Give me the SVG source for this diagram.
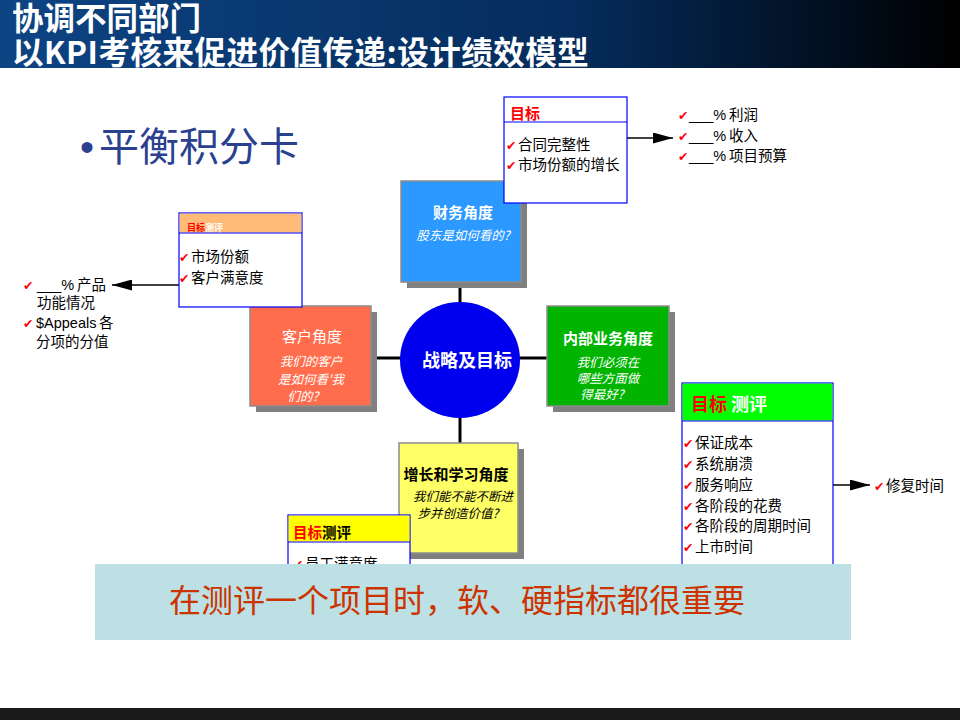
<svg xmlns="http://www.w3.org/2000/svg" width="960" height="720" viewBox="0 0 960 720">
<defs>
<linearGradient id="tb" x1="0" x2="1" y1="0" y2="0">
<stop offset="0" stop-color="#0d4484"/>
<stop offset="0.6" stop-color="#052c5c"/>
<stop offset="1" stop-color="#000000"/>
</linearGradient>
<marker id="ah" viewBox="0 0 20 11" refX="20" refY="5.5" markerWidth="20" markerHeight="11" markerUnits="userSpaceOnUse" orient="auto"><path d="M0,0 L20,5.5 L0,11 z" fill="#000"/></marker>
</defs>
<style>
.cjk{font-family:"Noto Sans CJK SC","Liberation Sans",sans-serif}
.lat{font-family:"Liberation Sans","Noto Sans CJK SC",sans-serif}
.ck{fill:#ff0000;font-family:"DejaVu Sans",sans-serif;font-size:12.5px;font-weight:bold}
.item{font-family:"Noto Sans CJK SC",sans-serif;font-size:14.5px;fill:#000}
.box{stroke:#8c8c8c;stroke-width:1.5}
.shadow{fill:#808080}
.tgt{fill:#fff;stroke:#0000ff;stroke-width:1.2}
.hd{stroke:#0000ff;stroke-width:1.2}
.conn{stroke:#000;stroke-width:3;fill:none}
.arr{stroke:#000;stroke-width:1.5;fill:none;marker-end:url(#ah)}
.ttl{font-family:"Noto Sans CJK SC",sans-serif;font-size:15px;fill:#fff;text-anchor:middle}
.sub{font-family:"Noto Sans CJK SC",sans-serif;font-size:12.5px;font-style:italic;fill:#fff;text-anchor:middle}
</style>
<rect x="0" y="0" width="960" height="68" fill="url(#tb)"/>
<text class="cjk" x="12" y="30" font-size="31.5" font-weight="bold" fill="#fff">协调不同部门</text>
<text class="cjk" x="12" y="64" font-size="31.5" font-weight="bold" fill="#fff" letter-spacing="0.5">以KPI考核来促进价值传递:设计绩效模型</text>
<rect x="0" y="708" width="960" height="12" fill="#1a1a1a"/>
<text x="80" y="161" font-size="40" fill="#2a4190"><tspan font-family="Liberation Sans, sans-serif">•</tspan><tspan dx="5" font-family="Noto Sans CJK SC, sans-serif">平衡积分卡</tspan></text>

<g id="connectors">
<line class="conn" x1="460" y1="282" x2="460" y2="303"/>
<line class="conn" x1="372" y1="358" x2="401" y2="358"/>
<line class="conn" x1="519" y1="358" x2="547" y2="358"/>
<line class="conn" x1="460" y1="416" x2="460" y2="443"/>
<line class="arr" x1="624" y1="138" x2="673" y2="138"/>
<line class="arr" x1="179" y1="285" x2="112" y2="285"/>
<line class="arr" x1="817" y1="485" x2="870" y2="485"/>
</g>

<g id="center">
<ellipse cx="460" cy="360" rx="60" ry="58" fill="#0000ee"/>
<text class="cjk" x="467" y="367" font-size="18" font-weight="bold" fill="#fff" text-anchor="middle">战略及目标</text>
</g>

<g id="finance">
<rect class="shadow" x="407" y="187" width="120" height="101"/>
<rect class="box" x="401" y="181" width="120" height="101" fill="#2b99ff"/>
<text class="ttl" x="463" y="218" font-weight="bold">财务角度</text>
<text class="sub" x="463" y="240">股东是如何看的?</text>
</g>

<g id="customer">
<rect class="shadow" x="256" y="312" width="121" height="100"/>
<rect class="box" x="250" y="306" width="121" height="100" fill="#ff6d4d"/>
<text class="ttl" x="312" y="342">客户角度</text>
<text class="sub" x="311" y="366">我们的客户</text>
<text class="sub" x="311" y="384">是如何看'我</text>
<text class="sub" x="303" y="401">们的?</text>
</g>

<g id="internal">
<rect class="shadow" x="553" y="312" width="122" height="100"/>
<rect class="box" x="547" y="306" width="122" height="100" fill="#00b400"/>
<text class="ttl" x="608" y="344" font-weight="bold">内部业务角度</text>
<text class="sub" x="608" y="367">我们必须在</text>
<text class="sub" x="608" y="383">哪些方面做</text>
<text class="sub" x="602" y="399">得最好?</text>
</g>

<g id="learning">
<rect class="shadow" x="405" y="449" width="119" height="110"/>
<rect class="box" x="399" y="443" width="119" height="110" fill="#ffff66"/>
<text class="ttl" x="456" y="480" font-weight="bold" style="fill:#000">增长和学习角度</text>
<text class="sub" x="463" y="501" style="fill:#000">我们能不能不断进</text>
<text class="sub" x="458" y="518" style="fill:#000">步并创造价值?</text>
</g>

<g id="target-finance">
<rect class="tgt" x="504" y="97" width="123" height="106"/>
<line class="hd" x1="504" y1="122" x2="627" y2="122"/>
<text class="cjk" x="510" y="119" font-size="15" font-weight="bold" fill="#ff0000">目标</text>
<text class="ck" x="506" y="150">✔</text><text class="item" x="518" y="150">合同完整性</text>
<text class="ck" x="506" y="170">✔</text><text class="item" x="518" y="170">市场份额的增长</text>
</g>

<g id="finance-metrics">
<text class="ck" x="678" y="120">✔</text><text class="lat" x="689" y="120" font-size="14.5">___%</text><text class="item" x="729" y="120">利润</text>
<text class="ck" x="678" y="141">✔</text><text class="lat" x="689" y="141" font-size="14.5">___%</text><text class="item" x="729" y="141">收入</text>
<text class="ck" x="678" y="161">✔</text><text class="lat" x="689" y="161" font-size="14.5">___%</text><text class="item" x="729" y="161">项目预算</text>
</g>

<g id="target-customer">
<rect class="tgt" x="179" y="213" width="123" height="94"/>
<rect x="179.6" y="213.6" width="121.8" height="19" fill="#ffbb77"/>
<line class="hd" x1="179" y1="233" x2="302" y2="233"/>
<text class="cjk" x="187" y="231" font-size="9" font-weight="bold" fill="#ff0000">目标<tspan fill="#fff">测评</tspan></text>
<text class="ck" x="179" y="262">✔</text><text class="item" x="191" y="262">市场份额</text>
<text class="ck" x="179" y="283">✔</text><text class="item" x="191" y="283">客户满意度</text>
</g>

<g id="customer-metrics">
<text class="ck" x="23" y="290">✔</text><text class="lat" x="37" y="290" font-size="14.5">___%</text><text class="item" x="77" y="290">产品</text>
<text class="item" x="37" y="308">功能情况</text>
<text class="ck" x="23" y="328">✔</text><text class="lat" x="36" y="328" font-size="14.5">$Appeals</text><text class="item" x="99" y="328">各</text>
<text class="item" x="36" y="347">分项的分值</text>
</g>

<g id="target-internal">
<rect class="tgt" x="682" y="383" width="151" height="200"/>
<rect x="682.6" y="383.6" width="149.8" height="37" fill="#00ff00"/>
<line class="hd" x1="682" y1="421" x2="833" y2="421"/>
<text class="cjk" x="691" y="411" font-size="18" font-weight="bold" fill="#ff0000">目标 <tspan fill="#fff">测评</tspan></text>
<text class="ck" x="683" y="448">✔</text><text class="item" x="695" y="448">保证成本</text>
<text class="ck" x="683" y="469">✔</text><text class="item" x="695" y="469">系统崩溃</text>
<text class="ck" x="683" y="490">✔</text><text class="item" x="695" y="490">服务响应</text>
<text class="ck" x="683" y="511">✔</text><text class="item" x="695" y="511">各阶段的花费</text>
<text class="ck" x="683" y="531">✔</text><text class="item" x="695" y="531">各阶段的周期时间</text>
<text class="ck" x="683" y="552">✔</text><text class="item" x="695" y="552">上市时间</text>
</g>

<g id="internal-metrics">
<text class="ck" x="874" y="491">✔</text><text class="item" x="886" y="491">修复时间</text>
</g>

<g id="target-learning">
<rect class="tgt" x="288" y="515" width="122" height="70"/>
<rect x="288.6" y="515.6" width="120.8" height="26" fill="#ffff00"/>
<line class="hd" x1="288" y1="542" x2="410" y2="542"/>
<text class="cjk" x="293" y="538" font-size="14.5" font-weight="bold" fill="#ff0000">目标<tspan fill="#000">测评</tspan></text>
<text class="ck" x="293" y="569">✔</text><text class="item" x="305" y="569">员工满意度</text>
</g>

<g id="banner">
<rect x="95" y="564" width="756" height="76" fill="#bce0e3"/>
<text class="cjk" x="457" y="612" font-size="32" fill="#cc3300" text-anchor="middle">在测评一个项目时，软、硬指标都很重要</text>
</g>
</svg>
